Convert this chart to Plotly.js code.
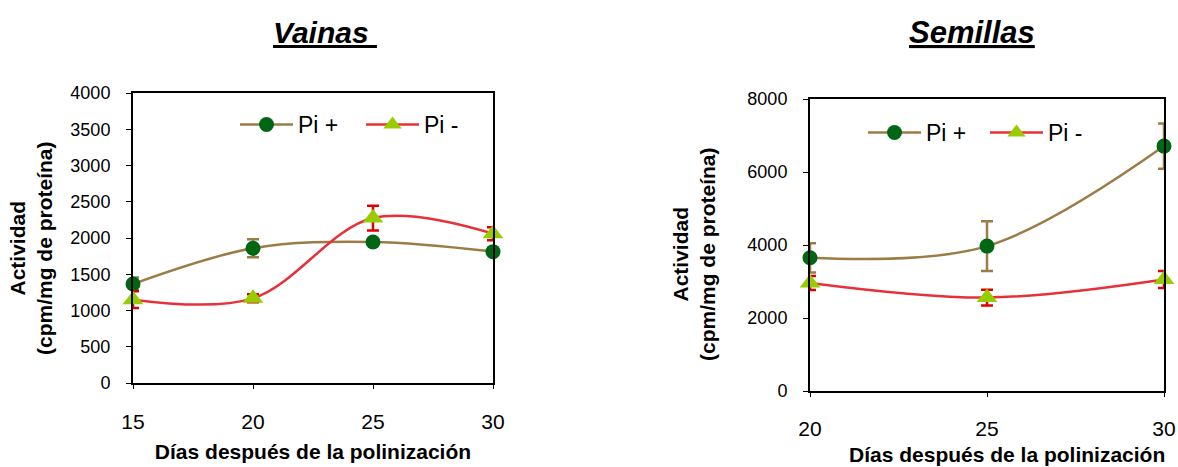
<!DOCTYPE html>
<html>
<head>
<meta charset="utf-8">
<script src="https://cdn.plot.ly/plotly-3.0.1.min.js"></script>
<style>html,body{margin:0;padding:0;background:#fff;}#chart{width:1178px;height:467px;}</style>
</head>
<body>
<div id="chart"></div>
<script>
// Vainas (pods)
const diasVainas = [15, 20, 25, 30];
const vainasPiMas = [1365, 1858, 1945, 1812];
const vainasPiMasErr = [90, 125, 30, 30];
const vainasPiMenos = [1150, 1168, 2275, 2060];
const vainasPiMenosErr = [115, 55, 170, 90];

// Semillas (seeds)
const diasSemillas = [20, 25, 30];
const semillasPiMas = [3650, 3970, 6710];
const semillasPiMasErr = [400, 680, 620];
const semillasPiMenos = [2960, 2560, 3055];
const semillasPiMenosErr = [190, 215, 230];

const nombres = ['Pi +', 'Pi -'];
const yTitulo = 'Actividad<br>(cpm/mg de proteína)';
const xTitulo = 'Días después de la polinización';

const colMasLine = '#9C7C45', colMasMarker = '#006614';
const colMenosLine = '#E8303A', colMenosErr = '#E00000', colMenosMarker = '#99CC00';
const FONT = 'Liberation Sans, Arial, sans-serif';

function tr(x, y, err, idx, xa, ya, leg) {
  const plus = idx === 0;
  return {
    x: x, y: y, xaxis: xa, yaxis: ya, legend: leg,
    name: nombres[idx], type: 'scatter', mode: 'lines+markers', cliponaxis: false,
    line: {color: plus ? colMasLine : colMenosLine, width: 2.5, shape: 'spline', smoothing: 1},
    marker: {symbol: plus ? 'circle' : 'triangle-up', size: plus ? 15 : 18, color: plus ? colMasMarker : colMenosMarker},
    error_y: {type: 'data', array: err, visible: true, color: plus ? colMasLine : colMenosErr, thickness: 2.5, width: 6}
  };
}

const data = [
  tr(diasVainas, vainasPiMas, vainasPiMasErr, 0, 'x', 'y', 'legend'),
  tr(diasVainas, vainasPiMenos, vainasPiMenosErr, 1, 'x', 'y', 'legend'),
  tr(diasSemillas, semillasPiMas, semillasPiMasErr, 0, 'x2', 'y2', 'legend2'),
  tr(diasSemillas, semillasPiMenos, semillasPiMenosErr, 1, 'x2', 'y2', 'legend2')
];

function xax(domain, range, dtick, standoff) {
  return {
    domain: domain, range: range, dtick: dtick, tick0: range[0],
    showline: true, linecolor: '#000', linewidth: 2, mirror: true,
    ticks: 'outside', ticklen: 4, tickwidth: 1, tickcolor: '#000',
    showgrid: false, zeroline: false, ticklabelstandoff: standoff,
    tickfont: {family: FONT, size: 21, color: '#000'}
  };
}
function yax(domain, range, dtick, anchor) {
  return {
    domain: domain, range: range, dtick: dtick, anchor: anchor,
    showline: true, linecolor: '#000', linewidth: 2, mirror: true,
    ticks: 'outside', ticklen: 5, tickwidth: 1, tickcolor: '#000',
    showgrid: false, zeroline: false, ticklabelstandoff: 12,
    tickfont: {family: FONT, size: 18, color: '#000'}
  };
}

const xa1 = xax([133/1178, 493/1178], [15, 30], 5, 15); xa1.anchor = 'y';
xa1.title = {text: xTitulo, font: {family: FONT, size: 21, color: '#000', weight: 'bold'}, standoff: 12};
const xa2 = xax([810/1178, 1164/1178], [20, 30], 5, 14); xa2.anchor = 'y2';

const legFont = {family: FONT, size: 23, color: '#000'};
const layout = {
  width: 1178, height: 467,
  margin: {l: 0, r: 0, t: 0, b: 0},
  paper_bgcolor: '#fff', plot_bgcolor: '#fff',
  font: {family: FONT, color: '#000'},
  xaxis: xa1,
  yaxis: yax([1 - 383/467, 1 - 93/467], [0, 4000], 500, 'x'),
  xaxis2: xa2,
  yaxis2: yax([1 - 391/467, 1 - 99/467], [0, 8000], 2000, 'x2'),
  legend: {orientation: 'h', x: 235/1178, y: 1 - 103/467, xanchor: 'left', yanchor: 'top',
           bgcolor: 'rgba(0,0,0,0)', font: legFont, itemwidth: 53, entrywidth: 58, tracegroupgap: 0},
  legend2: {orientation: 'h', x: 863/1178, y: 1 - 111/467, xanchor: 'left', yanchor: 'top',
           bgcolor: 'rgba(0,0,0,0)', font: legFont, itemwidth: 53, entrywidth: 54, tracegroupgap: 0},
  annotations: [
    {text: '<u>Vainas </u>', xref: 'paper', yref: 'paper', x: 325/1178, y: 1 - 33/467, xanchor: 'center', yanchor: 'middle',
     showarrow: false, font: {family: FONT, size: 30, color: '#000', weight: 'bold', style: 'italic'}},
    {text: '<u>Semillas</u>', xref: 'paper', yref: 'paper', x: 972/1178, y: 1 - 33/467, xanchor: 'center', yanchor: 'middle',
     showarrow: false, font: {family: FONT, size: 31, color: '#000', weight: 'bold', style: 'italic'}},
    {text: yTitulo, xref: 'paper', yref: 'paper', x: 31/1178, y: 1 - 248/467, xanchor: 'center', yanchor: 'middle',
     textangle: -90, showarrow: false, font: {family: FONT, size: 21, color: '#000', weight: 'bold'}},
    {text: yTitulo, xref: 'paper', yref: 'paper', x: 694/1178, y: 1 - 254/467, xanchor: 'center', yanchor: 'middle',
     textangle: -90, showarrow: false, font: {family: FONT, size: 21, color: '#000', weight: 'bold'}},
    {text: xTitulo, xref: 'paper', yref: 'paper', x: 1007/1178, y: 0, xanchor: 'center', yanchor: 'bottom',
     borderpad: 0, showarrow: false, font: {family: FONT, size: 21, color: '#000', weight: 'bold'}}
  ],
  showlegend: true
};

Plotly.newPlot('chart', data, layout, {displayModeBar: false, staticPlot: true});
</script>
</body>
</html>
